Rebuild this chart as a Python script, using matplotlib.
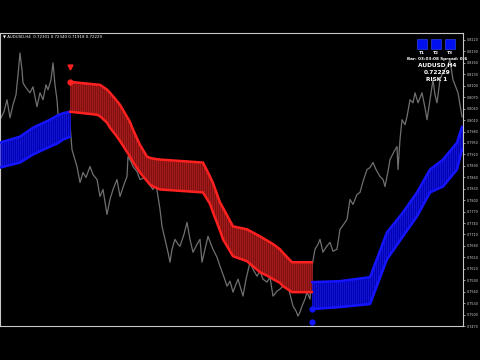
import numpy as np
import matplotlib
matplotlib.use("Agg")
import matplotlib.pyplot as plt
from matplotlib.patches import Rectangle

# ---- price series (bar index, price) ----
price_bar = [0, 4, 7, 10, 13, 16, 18, 20, 22, 23, 26, 30, 33, 37, 40, 43, 46, 48, 51, 53, 55, 57, 60, 63, 67, 70,
             72, 75, 77, 80, 83, 86, 90, 93, 97, 100, 103, 107, 110, 113, 117, 120, 124, 127, 128, 131, 133, 137,
             140, 145, 150, 153, 156, 158, 160, 162, 165, 168, 170, 172, 175, 178, 180, 184, 187, 190, 193, 197,
             200, 202, 205, 208, 211, 213, 217, 220, 224, 227, 230, 233, 236, 238, 241, 243, 246, 250, 253, 257,
             260, 263, 267, 270, 273, 277, 280, 284, 287, 290, 293, 296, 298, 300, 302, 305, 307, 310, 312, 315,
             318, 320, 323, 326, 330, 333, 337, 340, 343, 347, 350, 353, 357, 360, 363, 367, 370, 373, 376, 380,
             383, 385, 388, 390, 394, 397, 398, 400, 402, 405, 407, 410, 413, 415, 418, 422, 425, 427, 430, 433,
             435, 437, 440, 443, 447, 450, 453, 455, 458, 460, 462]
price_val = [.80109, .80318, .80632, .80161, .80501, .80763, .81285, .81860, .81416, .81076, .80946, .80815,
             .80972, .80449, .80815, .80632, .81024, .80893, .81155, .81599, .81024, .80632, .79587, .79900,
             .79770, .79979, .79325, .79064, .78881, .78463, .78724, .78594, .78881, .78672, .78541, .78097,
             .78280, .77627, .78019, .78280, .78541, .78097, .78411, .78620, .79142, .79012, .78881, .78751,
             .78541, .78594, .78384, .78280, .78411, .78097, .77758, .77313, .76973, .76634, .76372, .76712,
             .76973, .76843, .76791, .77104, .77418, .76973, .76634, .76843, .76973, .76372, .76712, .77052,
             .76843, .76712, .76503, .76268, .75980, .75745, .75876, .75588, .75797, .75928, .75667, .75484,
             .75928, .76372, .76189, .76007, .76137, .75928, .75850, .75980, .75484, .75615, .75667, .75771,
             .75850, .75536, .75223, .75092, .74961, .75066, .75223, .75405, .75588, .75405, .76268, .76712,
             .76843, .76973, .76634, .76764, .76895, .76660, .76712, .77235, .77340, .77496, .78019, .77888,
             .78149, .78202, .78489, .78803, .78855, .78986, .78803, .78620, .78541, .78358, .78751, .79064,
             .79273, .79404, .78803, .79587, .80109, .79979, .80188, .80632, .80554, .80815, .80554, .80815,
             .80423, .80109, .80632, .81155, .80763, .80554, .81155, .81364, .81494, .81677, .81155, .81024,
             .80815, .80501, .80188]

# ---- band 1 (blue, up trend) ----
blue1_bar = [0, 20, 33, 50, 57, 63, 70]
blue1_upper = [.79508, .79665, .79900, .80109, .80214, .80280, .80318]
blue1_lower = [.78855, .78986, .79195, .79404, .79480, .79587, .79665]

# ---- band 2 (red, down trend) ----
red_bar = [70, 97, 100, 107, 110, 117, 120, 130, 133, 140, 147, 150, 153, 160, 203, 210, 213, 220, 223, 233,
           247, 260, 270, 273, 280, 283, 292, 312]
red_upper = [.81102, .81030, .81024, .80900, .80815, .80600, .80501, .80050, .79848, .79450, .79142, .79110,
             .79090, .79064, .78986, .78620, .78450, .77940, .77800, .77313, .77235, .77052, .76895, .76850,
             .76712, .76620, .76372, .76372]
red_lower = [.80318, .80240, .80200, .80031, .79900, .79665, .79550, .79142, .79000, .78724, .78500, .78411,
             .78360, .78280, .78202, .77900, .77679, .77200, .76973, .76529, .76398, .76111, .75980, .75928,
             .75830, .75745, .75588, .75588]

# ---- band 3 (blue, up trend) ----
blue2_bar = [312, 340, 370, 387, 403, 417, 430, 443, 457, 462]
blue2_upper = [.75850, .75876, .75980, .77156, .77679, .78202, .78803, .79064, .79508, .79926]
blue2_lower = [.75144, .75196, .75275, .76451, .77052, .77575, .78202, .78358, .78803, .79325]

# ---- signals ----
sell_bar, sell_price = 70, .81494
buy_bar, buy_price = 312, .74804

# ---- axis ticks ----
tick_values = [round(0.8220 - 0.0030 * i, 4) for i in range(26)]

header = "\u25bc AUDUSD,H4  0.72301 0.72340 0.71918 0.72229"
panel_lines = ["Bar: 03:03:08 Spread: 0.6", "AUDUSD H4", "0.72229", "RISK 1"]
target_labels = ["T1", "T2", "T3"]

W, H = 480, 360
fig = plt.figure(figsize=(4.8, 3.6), dpi=100, facecolor="black")
ax = fig.add_axes([0, 1 - 326 / H, 463 / W, (326 - 33) / H], facecolor="black")
ax.set_xlim(0, 463)
ax.set_ylim(0.74726, 0.82383)


def band(bars, up, lo, fill, stripe, edge):
    bars = np.asarray(bars, float)
    ax.fill_between(bars, lo, up, color=fill, lw=0, zorder=2)
    xs = np.arange(bars[0], bars[-1] + 1, 2)
    ax.vlines(xs, np.interp(xs, bars, lo), np.interp(xs, bars, up), color=stripe, lw=0.5, zorder=3)
    ax.plot(bars, up, color=edge, lw=1.8, zorder=4, solid_capstyle="round")
    ax.plot(bars, lo, color=edge, lw=1.8, zorder=4, solid_capstyle="round")


ax.plot(price_bar, price_val, color="#707070", lw=0.9, zorder=1)
band(blue1_bar, blue1_upper, blue1_lower, "#0000b4", "#1c1ce0", "#1414ff")
band(red_bar, red_upper, red_lower, "#801010", "#b42424", "#ff2020")
band(blue2_bar, blue2_upper, blue2_lower, "#0000b4", "#1c1ce0", "#1414ff")

ax.plot([red_bar[0]], [red_upper[0]], "o", color="#ff2020", ms=3.5, zorder=5)
ax.plot([blue2_bar[0]], [blue2_lower[0]], "o", color="#1414ff", ms=3.5, zorder=5)
ax.plot([sell_bar], [sell_price], marker="v", color="#ff2020", ms=3.5, zorder=5)
ax.plot([buy_bar], [buy_price], marker="o", color="#1414ff", ms=3.5, zorder=5)

ax.yaxis.tick_right()
ax.set_yticks(tick_values)
ax.set_yticklabels([f"{v:.4f}" for v in tick_values])
ax.tick_params(axis="y", colors="#d0d0d0", labelsize=2.4, length=1.5, width=0.5, pad=1)
ax.set_xticks([])
for s in ["top", "bottom", "right", "left"]:
    ax.spines[s].set_color("#c8c8c8")
    ax.spines[s].set_linewidth(0.8)

fig.text(3 / W, 1 - 36.5 / H, header, color="white", fontsize=2.8, va="center", ha="left")

for i, lab in enumerate(target_labels):
    cx = 422 + 14 * i
    fig.add_artist(Rectangle(((cx - 5) / W, 1 - 49 / H), 10 / W, 10 / H, transform=fig.transFigure,
                             facecolor="#0010ee", edgecolor="#3050ff", lw=0.4))
    fig.text(cx / W, 1 - 53 / H, lab, color="white", fontsize=3.2, fontweight="bold", ha="center", va="center")

ys = [59, 65.5, 72.5, 79.5]
sizes = [3.0, 4.2, 4.2, 4.2]
for t, y, s in zip(panel_lines, ys, sizes):
    fig.text(437 / W, 1 - y / H, t, color="white", fontsize=s, fontweight="bold", ha="center", va="center")

fig.savefig("out.png", dpi=100, facecolor="black")
